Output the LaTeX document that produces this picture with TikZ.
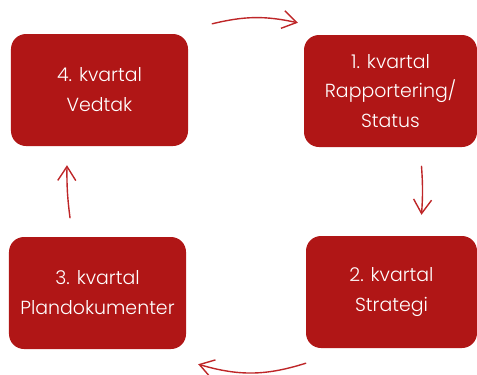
\documentclass[tikz,border=0pt]{standalone}
\usepackage{fontspec}
\setmainfont{Poppins Light}
\usepackage{tikz}
\usetikzlibrary{arrows.meta, positioning}
\usepackage{xcolor}
\definecolor{kvred}{RGB}{176,22,22}
\definecolor{kvarrow}{RGB}{190,38,40}

\begin{document}
\begin{tikzpicture}[x=1bp, y=-1bp,
  kvbox/.style={rectangle, rounded corners=15bp, fill=kvred, text=white,
    minimum width=177bp, minimum height=112bp, inner sep=0pt, align=center,
    font=\fontsize{19}{30}\selectfont},
  flow/.style={kvarrow, line width=1.4bp, line cap=round,
    -{Straight Barb[length=14bp, width=18bp, line width=1.4bp]}}]
  \useasboundingbox (0,0) rectangle (477,374);
  \node[kvbox] (q4) at (99.5,90) {4. kvartal\\Vedtak};
  \node[kvbox, minimum width=173bp] (q1) at (390.5,91) {1. kvartal\\Rapportering/\\Status};
  \node[kvbox, minimum width=171bp] (q2) at (391.5,292) {2. kvartal\\Strategi};
  \node[kvbox] (q3) at (97.5,293) {3. kvartal\\Plandokumenter};
  \draw[flow] ([xshift=24bp, yshift=10bp]q4.north east) to[bend left=13] ([xshift=-6bp, yshift=12bp]q1.north west);
  \draw[flow] ([xshift=31bp, yshift=-19bp]q1.south) to[bend left=4] ([xshift=30bp, yshift=21bp]q2.north);
  \draw[flow] ([yshift=-15bp]q2.south west) to[bend left=17] ([xshift=12bp, yshift=-15bp]q3.south east);
  \draw[flow] ([xshift=-27.5bp, yshift=19bp]q3.north) to[bend left=4] ([xshift=-32.5bp, yshift=-19bp]q4.south);
\end{tikzpicture}
\end{document}
